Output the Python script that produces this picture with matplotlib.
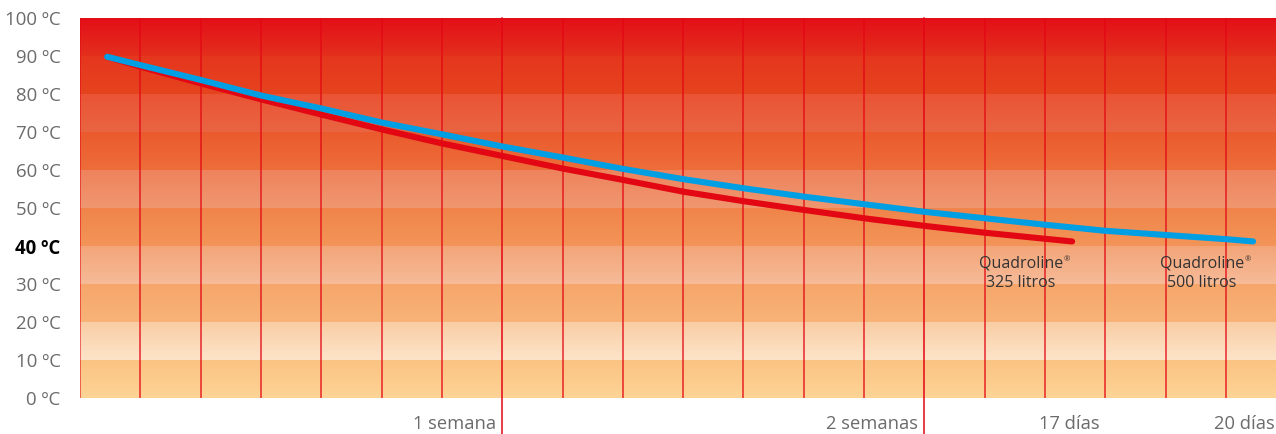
import numpy as np
import matplotlib
matplotlib.use("Agg")
import matplotlib.pyplot as plt
from matplotlib.colors import to_rgb
import matplotlib.transforms as mtransforms

# ---- data ----
y_ticks = [0, 10, 20, 30, 40, 50, 60, 70, 80, 90, 100]
y_labels = ["0 ºC", "10 ºC", "20 ºC", "30 ºC", "40 ºC", "50 ºC", "60 ºC", "70 ºC", "80 ºC", "90 ºC", "100 ºC"]
x_label_days = [7, 14, 17, 20]
x_labels = ["1 semana", "2 semanas", "17 días", "20 días"]

days_500 = [0.45, 1, 2, 3, 4, 5, 6, 7, 8, 9, 10, 11, 12, 13, 14, 15, 16, 17, 18, 19, 19.45]
temp_500 = [89.8, 87.6, 83.7, 79.6, 76.2, 72.5, 69.4, 66.2, 63.3, 60.3, 57.6, 55.2, 53.0, 51.0, 49.0,
            47.3, 45.6, 44.0, 42.9, 41.8, 41.2]
days_325 = [0.45, 1, 2, 3, 4, 5, 6, 7, 8, 9, 10, 11, 12, 13, 14, 15, 16, 16.45]
temp_325 = [89.8, 87.2, 82.8, 78.6, 74.6, 70.7, 67.0, 63.7, 60.4, 57.4, 54.3, 51.8, 49.5, 47.3, 45.3,
            43.5, 41.9, 41.2]
label_325 = "Quadroline\n325 litros"
label_500 = "Quadroline\n500 litros"

# band colours (bottom, top) for each 10 ºC band from 0 upwards
band_colors = [
    ("#fdd497", "#fbc382"),
    ("#fde4c8", "#f9cda5"),
    ("#f8b378", "#f6a66b"),
    ("#f6bb98", "#f3a579"),
    ("#f39558", "#f0844a"),
    ("#f09770", "#ee835d"),
    ("#ee6e3a", "#ea5a2d"),
    ("#ea6542", "#e95435"),
    ("#e6441f", "#e5361e"),
    ("#e42f1d", "#e30f18"),
]

X_MAX = 19.83
LINE_RED = "#e30613"
BLUE = "#009fe3"

plt.rcParams['font.family'] = ['Open Sans', 'DejaVu Sans']

fig = plt.figure(figsize=(12.76, 4.34), dpi=100)
ax = fig.add_axes([80 / 1276, 36 / 434, 1 - 80 / 1276, 380 / 434])

# background gradient bands
rows_per_band = 100
img = []
for bot, top in band_colors:
    b = np.array(to_rgb(bot)); t = np.array(to_rgb(top))
    for f in np.linspace(0, 1, rows_per_band):
        img.append(b + (t - b) * f)
img = np.array(img)[:, None, :]
ax.imshow(img, extent=[0, X_MAX, 0, 100], origin='lower', aspect='auto',
          interpolation='nearest', zorder=0)

ax.set_xlim(0, X_MAX)
ax.set_ylim(0, 100)

# vertical day lines
for d in range(0, 20):
    if d in (7, 14):
        ax.axvline(d, ymin=-36 / 380, ymax=1, color=LINE_RED, lw=1.1, clip_on=False, zorder=1)
    else:
        ax.axvline(d, color=LINE_RED, lw=1.1, alpha=0.85 if d else 0.7, zorder=1)

# curves
ax.plot(days_325, temp_325, color=LINE_RED, lw=4.4, solid_capstyle='round',
        solid_joinstyle='round', zorder=3)
ax.plot(days_500, temp_500, color=BLUE, lw=4.4, solid_capstyle='round',
        solid_joinstyle='round', zorder=4)

for s in ax.spines.values():
    s.set_visible(False)

# y tick labels
ax.set_yticks(y_ticks)
ax.set_yticklabels(y_labels)
ax.tick_params(axis='y', length=0, pad=14, labelsize=13.4, labelcolor="#6b6b6b")
for t in ax.get_yticklabels():
    if t.get_text().startswith("40"):
        t.set_fontweight('bold')
        t.set_color('black')
ax.set_xticks([])

# x labels
for d, lab in zip(x_label_days, x_labels):
    shift = -12 if d == 20 else -6
    offset = mtransforms.ScaledTranslation(shift / 100, 0, fig.dpi_scale_trans)
    trans = mtransforms.blended_transform_factory(ax.transData, ax.transAxes) + offset
    ax.text(d, -26 / 380, lab, transform=trans, ha='right', va='center',
            fontsize=13.2, color="#6b6b6b", clip_on=False)

# series labels
for xc, lab in ((15.6, label_325), (18.6, label_500)):
    t = ax.text(xc, 37.6, lab, ha='center', va='top', fontsize=11.5, color="#333333",
                linespacing=1.3, zorder=5)
    ax.annotate("®", xy=(1, 1), xycoords=t, xytext=(0.5, -1), textcoords='offset points',
                ha='left', va='top', fontsize=5.5, color="#333333", zorder=5)

fig.savefig("out.png", dpi=100)
